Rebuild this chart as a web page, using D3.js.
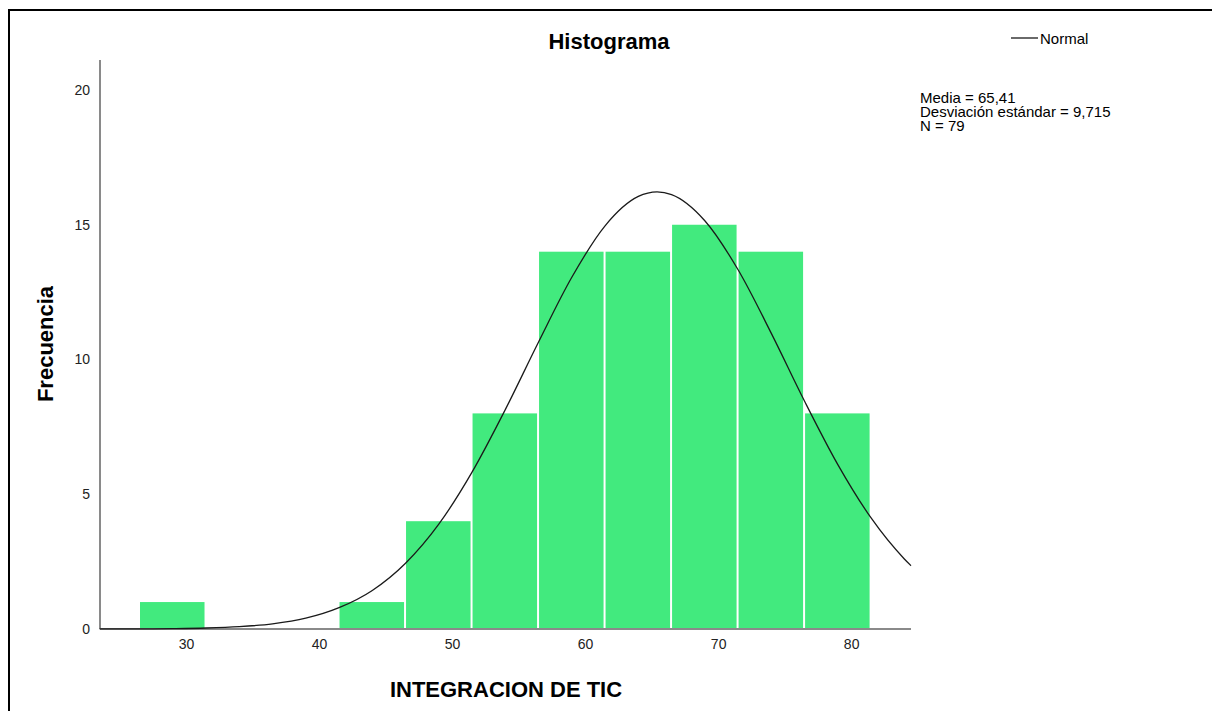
<!DOCTYPE html>
<html>
<head>
<meta charset="utf-8">
<script src="https://cdn.jsdelivr.net/npm/d3@7"></script>
<style>
  body { margin: 0; background: #fff; }
  text { font-family: Arial, "Liberation Sans", sans-serif; }
</style>
</head>
<body>
<svg width="1212" height="711"></svg>
<script>
// data
var binStarts = [26.5, 31.5, 36.5, 41.5, 46.5, 51.5, 56.5, 61.5, 66.5, 71.5, 76.5];
var binCounts = [1, 0, 0, 1, 4, 8, 14, 14, 15, 14, 8];
var binWidth = 5;
var xTicks = [30, 40, 50, 60, 70, 80];
var yTicks = [0, 5, 10, 15, 20];
// normal curve
var curveX = [23.5, 26.5, 29, 31.5, 34, 36.5, 39, 41.5, 44, 46.5, 49, 51.5, 54, 56.5, 59, 61.5, 64, 65.41, 66.5, 69, 71.5, 74, 76.5, 79, 81.5, 84, 84.5];
var curveY = [0.001, 0.005, 0.015, 0.037, 0.087, 0.19, 0.40, 0.79, 1.43, 2.44, 3.89, 5.82, 8.14, 10.65, 13.05, 14.96, 16.05, 16.22, 16.12, 15.15, 13.33, 10.97, 8.45, 6.10, 4.12, 2.60, 2.35];
var statLines = ["Media = 65,41", "Desviación estándar = 9,715", "N = 79"];

var svg = d3.select('svg');

// frame
svg.append('rect')
  .attr('x', 9).attr('y', 10)
  .attr('width', 1220).attr('height', 720)
  .attr('fill', 'none').attr('stroke', '#000').attr('stroke-width', 2);

// scales
var xScale = d3.scaleLinear().domain([23.53, 84.5]).range([100, 911]);
var yScale = d3.scaleLinear().domain([0, 20]).range([629, 90]);

// bars
svg.selectAll('rect.bar')
  .data(binCounts)
  .enter().append('rect')
  .attr('class', 'bar')
  .attr('x', function(d, i){ return xScale(binStarts[i]) + 0.5; })
  .attr('y', function(d){ return yScale(d); })
  .attr('width', function(d, i){ return xScale(binStarts[i] + binWidth) - xScale(binStarts[i]) - 2; })
  .attr('height', function(d){ return yScale(0) - yScale(d); })
  .attr('fill', '#42ea7e');

// axes
var xAxis = d3.axisBottom(xScale).tickValues(xTicks).tickSize(0).tickPadding(10).tickFormat(d3.format('d'));
var yAxis = d3.axisLeft(yScale).tickValues(yTicks).tickSize(0).tickPadding(10).tickFormat(d3.format('d'));

var gx = svg.append('g').attr('transform', 'translate(0,' + yScale(0) + ')').call(xAxis);
var gy = svg.append('g').attr('transform', 'translate(100,0)').call(yAxis);
gx.select('.domain').attr('d', 'M100,0H911').attr('stroke', '#8a8a8a').attr('stroke-width', 2);
gy.select('.domain').attr('d', 'M0,60V' + yScale(0)).attr('stroke', '#8a8a8a').attr('stroke-width', 2);
svg.selectAll('.tick text').attr('font-size', 14).attr('fill', '#222')
  .style('font-family', 'Arial, "Liberation Sans", sans-serif');

// normal curve
var line = d3.line()
  .x(function(d){ return xScale(d[0]); })
  .y(function(d){ return yScale(d[1]); })
  .curve(d3.curveMonotoneX);
svg.append('path')
  .datum(curveX.map(function(x, i){ return [x, curveY[i]]; }))
  .attr('d', line)
  .attr('fill', 'none')
  .attr('stroke', '#1a1a1a')
  .attr('stroke-width', 1.3);

// titles
svg.append('text').attr('x', 609).attr('y', 49).attr('text-anchor', 'middle')
  .attr('font-size', 22).attr('font-weight', 'bold').text('Histograma');
svg.append('text').attr('x', 506).attr('y', 697).attr('text-anchor', 'middle')
  .attr('font-size', 22).attr('font-weight', 'bold').text('INTEGRACION DE TIC');
svg.append('text').attr('transform', 'translate(53,344) rotate(-90)').attr('text-anchor', 'middle')
  .attr('font-size', 22).attr('font-weight', 'bold').text('Frecuencia');

// legend
svg.append('line').attr('x1', 1011).attr('x2', 1038).attr('y1', 38).attr('y2', 38)
  .attr('stroke', '#1a1a1a').attr('stroke-width', 1.3);
svg.append('text').attr('x', 1040).attr('y', 44).attr('font-size', 15).text('Normal');

// stats
svg.selectAll('text.stat')
  .data(statLines)
  .enter().append('text')
  .attr('class', 'stat')
  .attr('x', 920)
  .attr('y', function(d, i){ return 103 + i * 14; })
  .attr('font-size', 15)
  .text(function(d){ return d; });
</script>
</body>
</html>
